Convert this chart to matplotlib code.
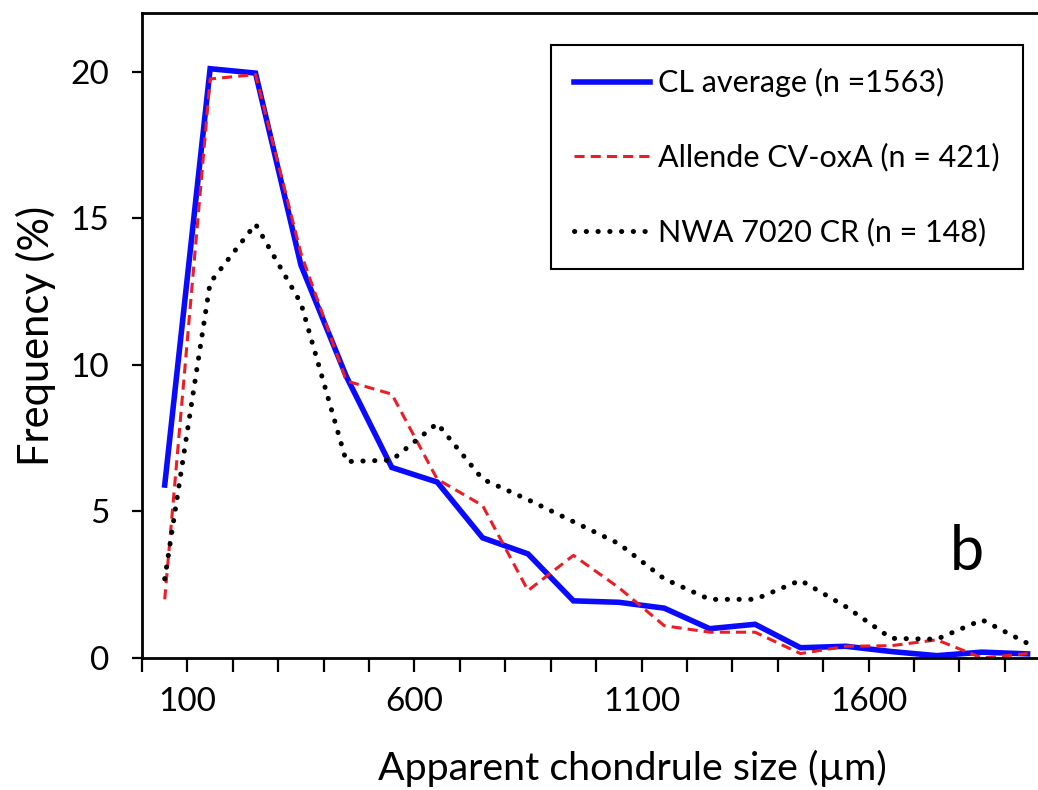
import matplotlib
matplotlib.use('Agg')
import matplotlib.pyplot as plt
from matplotlib.ticker import MultipleLocator, FuncFormatter

# bin centres (um) and frequencies (%)
size = [50, 150, 250, 350, 450, 550, 650, 750, 850, 950,
        1050, 1150, 1250, 1350, 1450, 1550, 1650, 1750, 1850, 1950]
cl_avg = [5.9, 20.1, 19.95, 13.4, 9.6, 6.5, 6.0, 4.1, 3.55, 1.95,
          1.9, 1.7, 1.0, 1.15, 0.35, 0.4, 0.22, 0.08, 0.2, 0.14]
allende = [2.0, 19.75, 19.9, 13.8, 9.45, 9.0, 6.1, 5.2, 2.3, 3.5,
           2.4, 1.1, 0.88, 0.88, 0.15, 0.4, 0.42, 0.62, 0.0, 0.15]
nwa7020 = [2.7, 12.8, 14.8, 12.1, 6.7, 6.75, 8.0, 6.1, 5.4, 4.65,
           3.9, 2.7, 2.0, 2.0, 2.65, 1.75, 0.67, 0.64, 1.3, 0.5]

labels = ['CL average (n =1563)', 'Allende CV-oxA (n = 421)', 'NWA 7020 CR (n = 148)']
xtick_labels = [100, 600, 1100, 1600]

plt.rcParams['font.family'] = ['Lato', 'DejaVu Sans']

fig = plt.figure(figsize=(10.38, 7.90), dpi=100)
ax = fig.add_axes([142 / 1038, 132 / 790, 896 / 1038, 645 / 790])

ax.plot(size, cl_avg, color='#0a0aff', lw=4.0, solid_joinstyle='miter', label=labels[0])
ax.plot(size, allende, color='#ee1c24', lw=2.2, dashes=(3.3, 2.0), label=labels[1])
ax.plot(size, nwa7020, color='black', lw=3.6, dashes=(0.05, 2.3),
        dash_capstyle='round', label=labels[2])

ax.set_xlim(0, 1973)
ax.set_ylim(0, 22)
ax.xaxis.set_major_locator(MultipleLocator(100))
ax.xaxis.set_major_formatter(FuncFormatter(
    lambda v, p: str(int(round(v))) if int(round(v)) in xtick_labels else ''))
ax.set_yticks([0, 5, 10, 15, 20])

for s in ['left', 'bottom', 'top']:
    ax.spines[s].set_linewidth(2.0)
ax.spines['right'].set_visible(False)

ax.tick_params(axis='x', direction='out', length=10, width=1.6, pad=11, labelsize=24)
ax.tick_params(axis='y', direction='out', length=7.5, width=1.6, pad=16, labelsize=24)

ax.set_xlabel('Apparent chondrule size (µm)', fontsize=28.4, va='center')
ax.xaxis.set_label_coords(0.547, -0.171)
ax.set_ylabel('Frequency (%)', fontsize=30, va='center')
ax.yaxis.set_label_coords(-0.118, 0.5)

ax.text(0.921, 0.163, 'b', transform=ax.transAxes, fontsize=44, ha='center', va='center')

leg = ax.legend(loc='upper right', bbox_to_anchor=(0.983, 0.95), fontsize=22,
                frameon=True, fancybox=False, edgecolor='black', framealpha=1,
                handlelength=2.5, handletextpad=0.27, labelspacing=1.5, borderpad=0.75,
                borderaxespad=0)
leg.get_frame().set_linewidth(1.5)

fig.savefig('out.png', dpi=100)
